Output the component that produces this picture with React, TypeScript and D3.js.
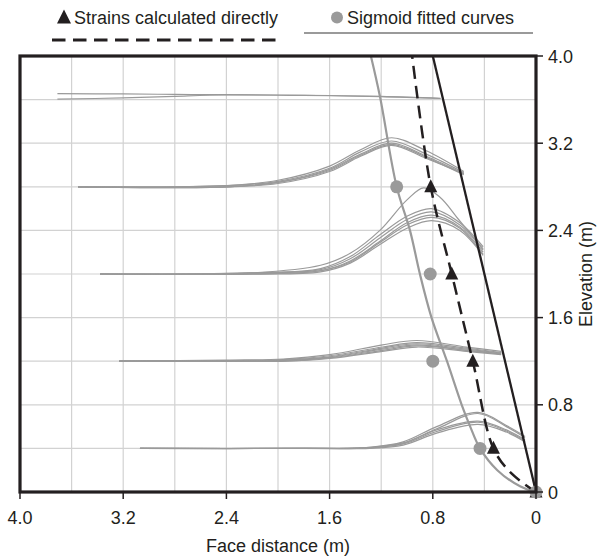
import React from 'react';
import * as d3 from 'd3';

// ---- Axis ticks ----
const X_TICKS = [4.0, 3.2, 2.4, 1.6, 0.8, 0];
const X_TICK_LABELS = ['4.0', '3.2', '2.4', '1.6', '0.8', '0'];
const Y_TICKS = [4.0, 3.2, 2.4, 1.6, 0.8, 0];
const Y_TICK_LABELS = ['4.0', '3.2', '2.4', '1.6', '0.8', '0'];
const GRID_VALUES = [0.4, 0.8, 1.2, 1.6, 2.0, 2.4, 2.8, 3.2, 3.6];

// ---- Strains calculated directly (triangles + dashed line) ----
const TRI_POINTS: [number, number][] = [
  [0, 0], [0.33, 0.4], [0.49, 1.2], [0.653, 2.0], [0.816, 2.8],
];
const DASHED_LINE: [number, number][] = [
  [0, 0], [0.19, 0.17], [0.33, 0.4], [0.49, 1.2], [0.653, 2.0], [0.816, 2.8], [0.96, 4.0],
];

// ---- Sigmoid fitted (circles + thick grey curve) ----
const CIRCLE_POINTS: [number, number][] = [
  [0, 0], [0.434, 0.4], [0.8, 1.2], [0.82, 2.0], [1.08, 2.8],
];
const SIGMOID_CURVE: [number, number][] = [
  [0, 0], [0.12, 0.05], [0.3, 0.2], [0.434, 0.4], [0.51, 0.6], [0.576, 0.8],
  [0.69, 1.2], [0.81, 1.6], [0.9, 2.0], [0.977, 2.4], [1.08, 2.8], [1.21, 3.63], [1.28, 4.0],
];

// ---- Solid black boundary line ----
const SOLID_LINE: [number, number][] = [[0, 0], [0.8, 4.0]];

// ---- Strain profile curves at each elevation ----
const G36_X = [3.71, 3.2, 2.8, 2.4, 1.8, 1.2, 0.74];
const G36_Y = [
  [3.655, 3.652, 3.648, 3.645, 3.64, 3.63, 3.612],
  [3.605, 3.615, 3.63, 3.642, 3.638, 3.628, 3.61],
];

const G28_X = [3.55, 2.4, 2.0, 1.6, 1.36, 1.12, 0.85, 0.56];
const G28_Y = [
  [2.8, 2.81, 2.86, 2.99, 3.14, 3.25, 3.13, 2.94],
  [2.8, 2.81, 2.85, 2.97, 3.12, 3.22, 3.10, 2.93],
  [2.8, 2.8, 2.84, 2.96, 3.10, 3.20, 3.08, 2.92],
  [2.8, 2.8, 2.84, 2.95, 3.09, 3.19, 3.07, 2.91],
  [2.8, 2.8, 2.83, 2.94, 3.08, 3.18, 3.06, 2.92],
];

const G20_THIN_X = [3.38, 2.2, 1.67, 1.44, 1.21, 1.0, 0.87, 0.74, 0.6, 0.41];
const G20_THIN_Y = [2.0, 2.01, 2.08, 2.19, 2.40, 2.68, 2.79, 2.70, 2.5, 2.23];
const G20_X = [3.38, 2.2, 1.67, 1.44, 1.21, 1.0, 0.81, 0.59, 0.41];
const G20_Y = [
  [2.0, 2.01, 2.05, 2.16, 2.36, 2.53, 2.60, 2.47, 2.25],
  [2.0, 2.01, 2.04, 2.14, 2.33, 2.50, 2.57, 2.45, 2.22],
  [2.0, 2.0, 2.03, 2.12, 2.30, 2.47, 2.54, 2.43, 2.20],
  [2.0, 2.0, 2.03, 2.11, 2.29, 2.45, 2.52, 2.42, 2.18],
  [2.0, 2.0, 2.02, 2.10, 2.27, 2.42, 2.49, 2.40, 2.17],
];

const G12_X = [3.23, 2.4, 1.96, 1.6, 1.19, 0.925, 0.54, 0.27];
const G12_Y = [
  [1.2, 1.21, 1.22, 1.26, 1.35, 1.39, 1.33, 1.29],
  [1.2, 1.205, 1.215, 1.25, 1.33, 1.37, 1.32, 1.28],
  [1.2, 1.2, 1.21, 1.24, 1.32, 1.36, 1.31, 1.275],
  [1.2, 1.2, 1.205, 1.235, 1.31, 1.35, 1.30, 1.27],
  [1.2, 1.2, 1.2, 1.23, 1.30, 1.34, 1.30, 1.265],
  [1.2, 1.2, 1.2, 1.225, 1.29, 1.33, 1.29, 1.26],
];

const G04_X = [3.07, 1.8, 1.29, 1.03, 0.77, 0.45, 0.23, 0.085];
const G04_Y = [
  [0.4, 0.4, 0.41, 0.46, 0.60, 0.73, 0.61, 0.51],
  [0.4, 0.4, 0.41, 0.45, 0.58, 0.72, 0.60, 0.50],
  [0.4, 0.4, 0.405, 0.445, 0.57, 0.65, 0.57, 0.48],
  [0.4, 0.4, 0.405, 0.44, 0.555, 0.64, 0.56, 0.47],
  [0.4, 0.4, 0.40, 0.43, 0.54, 0.62, 0.55, 0.46],
];

const LEGEND_LABELS = ['Strains calculated directly', 'Sigmoid fitted curves'];
const X_TITLE = 'Face distance (m)';
const Y_TITLE = 'Elevation (m)';

const W = 601;
const H = 558;
const LEFT = 20, RIGHT = 536, TOP = 56, BOTTOM = 492;
const FONT = '"Liberation Sans", Arial, sans-serif';
const FS = 18;
const DARK = '#231f20';
const GREY = '#9a9a9a';

function zip(xs: number[], ys: number[]): [number, number][] {
  return xs.map((x, i) => [x, ys[i]] as [number, number]);
}

export default function App() {
  const x = d3.scaleLinear().domain([4, 0]).range([LEFT, RIGHT]);
  const y = d3.scaleLinear().domain([0, 4]).range([BOTTOM, TOP]);

  const smooth = d3
    .line<[number, number]>()
    .x((d) => x(d[0]))
    .y((d) => y(d[1]))
    .curve(d3.curveCatmullRom.alpha(0.5));
  const straight = d3
    .line<[number, number]>()
    .x((d) => x(d[0]))
    .y((d) => y(d[1]));

  const profiles: [number, number][][] = [
    ...G36_Y.map((ys) => zip(G36_X, ys)),
    ...G28_Y.map((ys) => zip(G28_X, ys)),
    zip(G20_THIN_X, G20_THIN_Y),
    ...G20_Y.map((ys) => zip(G20_X, ys)),
    ...G12_Y.map((ys) => zip(G12_X, ys)),
    ...G04_Y.map((ys) => zip(G04_X, ys)),
  ];

  const tri = (cx: number, cy: number, s: number) =>
    `M${cx},${cy - s * 0.58} L${cx + s / 2},${cy + s * 0.42} L${cx - s / 2},${cy + s * 0.42} Z`;

  return (
    <svg
      width={W}
      height={H}
      style={{ position: 'absolute', left: 0, top: 0, background: '#fff' }}
      fontFamily={FONT}
    >
      <rect width={W} height={H} fill="#fff" />
      <defs>
        <clipPath id="plotClip">
          <rect x={LEFT} y={TOP} width={RIGHT - LEFT} height={BOTTOM - TOP} />
        </clipPath>
      </defs>

      {/* Legend */}
      <path d={tri(64, 17.5, 14)} fill={DARK} />
      <text x={74} y={24} fontSize={FS} fill={DARK}>{LEGEND_LABELS[0]}</text>
      <line x1={52} x2={282} y1={40} y2={40} stroke={DARK} strokeWidth={3.2} strokeDasharray="13.5 7.5" />
      <circle cx={337} cy={17.5} r={6} fill={GREY} />
      <text x={347} y={24} fontSize={FS} fill={DARK}>{LEGEND_LABELS[1]}</text>
      <line x1={304} x2={533} y1={33} y2={33} stroke={GREY} strokeWidth={2} />

      {/* Grid */}
      {GRID_VALUES.map((v) => (
        <line key={'gx' + v} x1={x(v)} x2={x(v)} y1={TOP} y2={BOTTOM} stroke="#d2d2d2" strokeWidth={1.2} />
      ))}
      {GRID_VALUES.map((v) => (
        <line key={'gy' + v} x1={LEFT} x2={RIGHT} y1={y(v)} y2={y(v)} stroke="#d2d2d2" strokeWidth={1.2} />
      ))}

      <g clipPath="url(#plotClip)">
        {profiles.map((p, i) => (
          <path key={'p' + i} d={smooth(p) || ''} fill="none" stroke={GREY} strokeWidth={1.2} />
        ))}
        <path d={smooth(SIGMOID_CURVE) || ''} fill="none" stroke={GREY} strokeWidth={2.2} />
        <path d={straight(SOLID_LINE) || ''} fill="none" stroke={DARK} strokeWidth={2.3} />
        <path
          d={smooth(DASHED_LINE) || ''}
          fill="none"
          stroke={DARK}
          strokeWidth={2.5}
          strokeDasharray="13 7"
        />
      </g>

      {TRI_POINTS.map((d, i) => (
        <path key={'t' + i} d={tri(x(d[0]), y(d[1]), 13)} fill={DARK} />
      ))}
      {CIRCLE_POINTS.map((d, i) => (
        <circle key={'c' + i} cx={x(d[0])} cy={y(d[1])} r={6.5} fill={GREY} />
      ))}

      <rect x={LEFT} y={TOP} width={RIGHT - LEFT} height={BOTTOM - TOP} fill="none" stroke={DARK} strokeWidth={3.2} />

      {X_TICKS.map((v, i) => (
        <g key={'xt' + v}>
          <line x1={x(v)} x2={x(v)} y1={BOTTOM} y2={BOTTOM + 7} stroke={DARK} strokeWidth={1.5} />
          <text x={x(v)} y={524} fontSize={FS} textAnchor="middle" fill={DARK}>
            {X_TICK_LABELS[i]}
          </text>
        </g>
      ))}
      {Y_TICKS.map((v, i) => (
        <g key={'yt' + v}>
          <line x1={RIGHT} x2={RIGHT + 7} y1={y(v)} y2={y(v)} stroke={DARK} strokeWidth={1.5} />
          <text x={548} y={y(v) + 6.5} fontSize={FS} fill={DARK}>
            {Y_TICK_LABELS[i]}
          </text>
        </g>
      ))}

      <text x={(LEFT + RIGHT) / 2} y={552} fontSize={FS} textAnchor="middle" fill={DARK}>
        {X_TITLE}
      </text>
      <text
        transform={`translate(592, ${(TOP + BOTTOM) / 2}) rotate(-90)`}
        fontSize={FS}
        textAnchor="middle"
        fill={DARK}
      >
        {Y_TITLE}
      </text>
    </svg>
  );
}
